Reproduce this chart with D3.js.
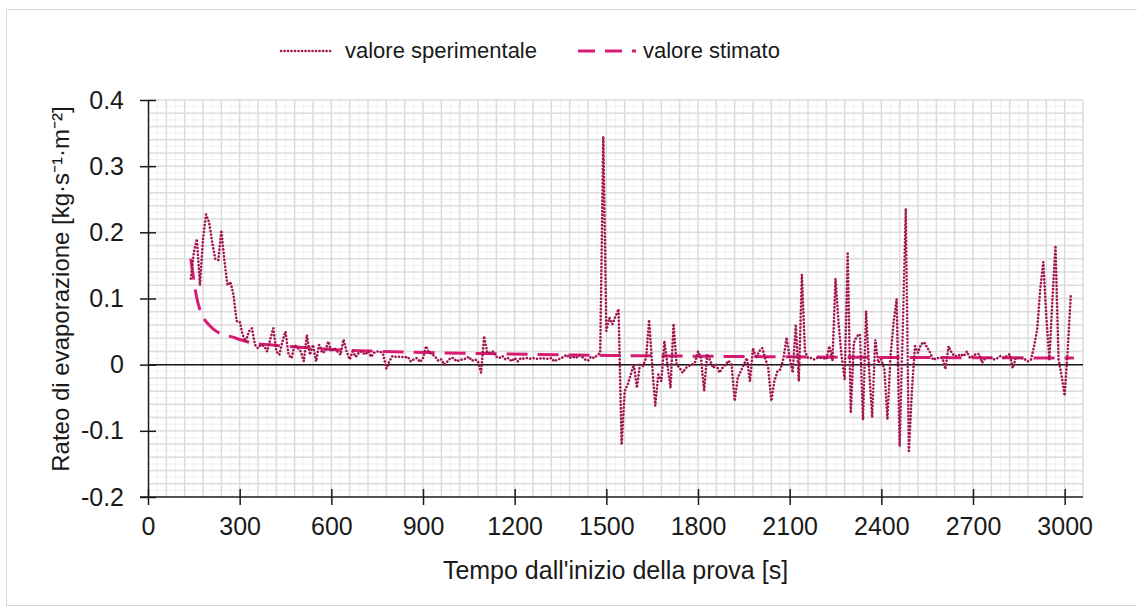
<!DOCTYPE html>
<html>
<head>
<meta charset="utf-8">
<script src="https://cdn.jsdelivr.net/npm/d3@7"></script>
<style>
  body { margin: 0; background: #fff; }
  text { font-family: "Liberation Sans", Arial, sans-serif; fill: #1a1a1a; }
</style>
</head>
<body>
<div id="chart"></div>
<script>
// ************** evaporation rate chart *****************
var W = 1137, H = 610;
var margin = {top: 100, right: 54, bottom: 113, left: 148},
    width = W - margin.left - margin.right,
    height = H - margin.top - margin.bottom;

// axis ticks
var xTicks = [0, 300, 600, 900, 1200, 1500, 1800, 2100, 2400, 2700, 3000];
var yTicks = [-0.2, -0.1, 0, 0.1, 0.2, 0.3, 0.4];

// experimental series: one reading every 10 s starting at 140 s
var expStart = 140, expStep = 10;
var expValues = [
  0.13, 0.17, 0.19, 0.12, 0.19, 0.227,
  0.215, 0.185, 0.16, 0.158, 0.203, 0.158, 0.12, 0.125, 0.105, 0.066,
  0.065, 0.045, 0.035, 0.05, 0.055, 0.03, 0.025, 0.03, 0.028, 0.02,
  0.038, 0.055, 0.02, 0.015, 0.035, 0.05, 0.015, 0.01, 0.03, 0.025,
  0.02, 0.005, 0.045, 0.015, 0.03, 0.005, 0.03, 0.018, 0.02, 0.035,
  0.02, 0.025, 0.02, 0.015, 0.038, 0.02, 0.008, 0.02, 0.012, 0.018,
  0.02, 0.015, 0.02, 0.012, 0.018, 0.02, 0.02, 0.015, -0.006, 0.005,
  0.013, 0.012, 0.012, 0.012, 0.011, 0.012, 0.005, 0.008, 0.01, 0.004,
  0.01, 0.028, 0.018, 0.016, 0.012, 0.006, 0.008, 0.0, 0.005, 0.01,
  0.01, 0.005, 0.007, 0.008, 0.009, 0.012, 0.006, 0.008, 0.005, -0.012,
  0.043, 0.018, 0.018, 0.02, 0.012, 0.01, 0.013, 0.008, 0.01, 0.005,
  0.01, 0.005, 0.01, 0.009, 0.01, 0.009, 0.01, 0.009, 0.009, 0.01,
  0.009, 0.009, 0.01, 0.005, 0.008, 0.009, 0.012, 0.015, 0.01, 0.012,
  0.01, 0.014, 0.012, 0.008, 0.006, 0.012, 0.01, 0.014, 0.018, 0.345,
  0.051, 0.071, 0.061, 0.073, 0.084, -0.121, -0.04, -0.03, -0.015, 0.0,
  -0.035, 0.0, -0.002, 0.01, 0.068, 0.0, -0.062, -0.015, -0.025, 0.036,
  0.0, -0.035, 0.062, 0.0, -0.005, -0.012, -0.005, -0.002, 0.0, 0.003,
  0.02, 0.01, -0.04, 0.016, 0.006, -0.005, 0.0, -0.012, -0.005, 0.0,
  0.006, 0.0, -0.055, -0.02, -0.01, 0.0, 0.01, -0.025, 0.025, 0.01,
  0.02, 0.025, 0.01, -0.005, -0.055, -0.025, -0.01, -0.007, 0.01, 0.041,
  0.01, -0.012, 0.061, -0.025, 0.136, 0.02, 0.01, 0.01, 0.008, 0.01,
  0.01, 0.01, 0.008, 0.028, 0.006, 0.13, 0.063, 0.013, -0.022, 0.168,
  -0.073, 0.033, 0.043, 0.046, -0.083, 0.081, -0.007, -0.08, 0.038, 0.003,
  0.008, -0.007, -0.083, 0.013, 0.063, 0.099, -0.123, 0.05, 0.236, -0.133,
  -0.04, 0.028, 0.018, 0.031, 0.034, 0.026, 0.018, 0.007, 0.01, 0.01,
  0.01, -0.007, 0.028, 0.018, 0.013, 0.013, 0.016, 0.013, 0.02, 0.01,
  0.013, 0.016, 0.016, 0.003, 0.01, 0.01, 0.01, 0.008, 0.01, 0.013,
  0.01, 0.013, 0.016, -0.005, 0.01, 0.01, 0.01, 0.008, 0.005, 0.008,
  0.028, 0.053, 0.114, 0.155, 0.073, 0.008, 0.099, 0.18, 0.008, -0.017,
  -0.047, 0.023, 0.105
];

// estimated (model) series
var estTime = [140, 150, 160, 170, 180, 200, 225, 250, 275, 300, 340, 400, 480, 600,
               730, 800, 950, 1100, 1250, 1400, 1500, 1800, 2100, 2400, 2700, 3030];
var estValue = [0.16, 0.128, 0.1, 0.083, 0.072, 0.06, 0.05, 0.045, 0.042, 0.038, 0.033,
                0.030, 0.027, 0.023, 0.0205, 0.0195, 0.018, 0.0168, 0.0156, 0.0146,
                0.014, 0.0128, 0.0118, 0.011, 0.0105, 0.010];

var expColor = "#a3154f", estColor = "#d81b72";

var svg = d3.select("#chart").append("svg")
    .attr("width", W)
    .attr("height", H);

// chart border
svg.append("rect")
    .attr("x", 6.5).attr("y", 9.5)
    .attr("width", 1140).attr("height", 596)
    .attr("fill", "none")
    .attr("stroke", "#d9d9d9");

var x = d3.scaleLinear().domain([0, 3060]).range([margin.left, margin.left + width]);
var y = d3.scaleLinear().domain([-0.2, 0.4]).range([margin.top + height, margin.top]);

var g = svg.append("g");

// minor grid (30 s, 0.01) then major grid (60 s, 0.02)
g.append("g").selectAll("line")
    .data(d3.range(30, 3060, 60))
    .join("line")
    .attr("x1", d => x(d)).attr("x2", d => x(d))
    .attr("y1", y(-0.2)).attr("y2", y(0.4))
    .attr("stroke", "#f1f1f1").attr("stroke-width", 1);
g.append("g").selectAll("line")
    .data(d3.range(-19, 40, 2))
    .join("line")
    .attr("y1", d => y(d / 100)).attr("y2", d => y(d / 100))
    .attr("x1", x(0)).attr("x2", x(3060))
    .attr("stroke", "#f1f1f1").attr("stroke-width", 1);
g.append("g").selectAll("line")
    .data(d3.range(60, 3061, 60))
    .join("line")
    .attr("x1", d => x(d)).attr("x2", d => x(d))
    .attr("y1", y(-0.2)).attr("y2", y(0.4))
    .attr("stroke", "#dcdcdc").attr("stroke-width", 1.5);
g.append("g").selectAll("line")
    .data(d3.range(-18, 41, 2))
    .join("line")
    .attr("y1", d => y(d / 100)).attr("y2", d => y(d / 100))
    .attr("x1", x(0)).attr("x2", x(3060))
    .attr("stroke", "#dcdcdc").attr("stroke-width", 1.5);

// axes
var xAxis = d3.axisBottom(x).tickValues(xTicks).tickSizeInner(8).tickSizeOuter(0).tickPadding(12)
    .tickFormat(d => String(d));
var yAxis = d3.axisLeft(y).tickValues(yTicks).tickSizeInner(8).tickSizeOuter(0).tickPadding(16)
    .tickFormat(d => d === 0 ? "0" : d.toFixed(1));

var gx = svg.append("g")
    .attr("transform", "translate(0," + y(-0.2) + ")")
    .call(xAxis);
var gy = svg.append("g")
    .attr("transform", "translate(" + x(0) + ",0)")
    .call(yAxis);

[gx, gy].forEach(function(ax) {
  ax.select(".domain").attr("stroke", "#1a1a1a").attr("stroke-width", 1.5);
  ax.selectAll(".tick line").attr("stroke", "#1a1a1a").attr("stroke-width", 1.5);
  ax.selectAll(".tick text").attr("font-size", 25).attr("fill", "#1a1a1a")
    .style("font-family", "'Liberation Sans', Arial, sans-serif");
});
// ticks cross the axis line
gx.selectAll(".tick line").attr("y1", -8).attr("y2", 8);
gy.selectAll(".tick line").attr("x1", 8).attr("x2", -8);
gx.select(".domain").attr("d", "M" + (x(0) - 8) + ",0H" + x(3060));

// zero line
svg.append("line")
    .attr("x1", x(0)).attr("x2", x(3060))
    .attr("y1", y(0)).attr("y2", y(0))
    .attr("stroke", "#1a1a1a").attr("stroke-width", 1.5);

// series
var expData = expValues.map(function(v, i) { return {t: expStart + i * expStep, v: v}; });
var estData = estTime.map(function(t, i) { return {t: t, v: estValue[i]}; });

var line = d3.line().x(d => x(d.t)).y(d => y(d.v));

svg.append("path")
    .datum(estData)
    .attr("d", line.curve(d3.curveMonotoneX))
    .attr("fill", "none")
    .attr("stroke", estColor)
    .attr("stroke-width", 3)
    .attr("stroke-dasharray", "21 10");

svg.append("path")
    .datum(expData)
    .attr("d", d3.line().x(d => x(d.t)).y(d => y(d.v)))
    .attr("fill", "none")
    .attr("stroke", expColor)
    .attr("stroke-width", 2.6)
    .attr("stroke-linecap", "round")
    .attr("stroke-dasharray", "0.1 3.4");

// axis titles
svg.append("text")
    .attr("x", (x(0) + x(3060)) / 2).attr("y", 579)
    .attr("text-anchor", "middle")
    .attr("font-size", 25)
    .text("Tempo dall'inizio della prova [s]");

svg.append("text")
    .attr("transform", "translate(69,289) rotate(-90)")
    .attr("text-anchor", "middle")
    .attr("font-size", 24)
    .text("Rateo di evaporazione [kg·s⁻¹·m⁻²]");

// legend
var legend = svg.append("g");
legend.append("line")
    .attr("x1", 281).attr("x2", 331).attr("y1", 51).attr("y2", 51)
    .attr("stroke", expColor).attr("stroke-width", 2.6)
    .attr("stroke-linecap", "round").attr("stroke-dasharray", "0.1 3.4");
legend.append("text")
    .attr("x", 345).attr("y", 58).attr("font-size", 22)
    .text("valore sperimentale");
legend.append("line")
    .attr("x1", 578).attr("x2", 636).attr("y1", 51).attr("y2", 51)
    .attr("stroke", estColor).attr("stroke-width", 3)
    .attr("stroke-dasharray", "17 10");
legend.append("text")
    .attr("x", 643).attr("y", 58).attr("font-size", 22)
    .text("valore stimato");
</script>
</body>
</html>
